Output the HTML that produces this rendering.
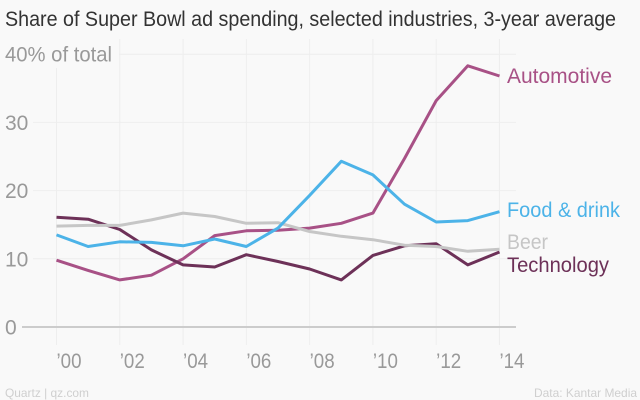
<!DOCTYPE html>
<html>
<head>
<meta charset="utf-8">
<style>
html,body{margin:0;padding:0;background:#f9f9f9;}
body{width:640px;height:400px;overflow:hidden;}
svg{display:block;font-family:"Liberation Sans",sans-serif;}
</style>
</head>
<body>
<svg id="chart" width="640" height="400" viewBox="0 0 640 400" xmlns="http://www.w3.org/2000/svg">
<rect width="640" height="400" fill="#f9f9f9"/>
<text x="5" y="26" font-size="21" fill="#333333" textLength="611" lengthAdjust="spacingAndGlyphs">Share of Super Bowl ad spending, selected industries, 3-year average</text>
<g id="grid"></g>
<g id="series"></g>
<g id="labels"></g>
<text x="5" y="397" font-size="12" fill="#cfcfcf" textLength="84" lengthAdjust="spacingAndGlyphs">Quartz | qz.com</text>
<text x="637" y="397" font-size="12" fill="#cfcfcf" text-anchor="end" textLength="103" lengthAdjust="spacingAndGlyphs">Data: Kantar Media</text>
</svg>
<script>
const years = [2000,2001,2002,2003,2004,2005,2006,2007,2008,2009,2010,2011,2012,2013,2014];
const automotive = [9.8,8.3,6.9,7.6,10.0,13.4,14.1,14.2,14.5,15.2,16.7,24.7,33.2,38.3,36.8];
const foodDrink = [13.5,11.8,12.5,12.4,11.9,12.9,11.8,14.5,19.3,24.3,22.3,18.0,15.4,15.6,16.9];
const beer = [14.8,14.9,14.9,15.7,16.7,16.2,15.2,15.3,14.0,13.3,12.8,12.0,11.8,11.1,11.4];
const technology = [16.1,15.8,14.3,11.3,9.1,8.8,10.6,9.6,8.5,6.9,10.5,11.9,12.2,9.1,11.0];
const yTicks = [0,10,20,30,40];
const xTicks = [2000,2002,2004,2006,2008,2010,2012,2014];

const NS = 'http://www.w3.org/2000/svg';
function xPos(year){ return 56.5 + (year - 2000) * 31.64; }
function yPos(v){ return 327 - v * 6.82; }
function make(tag, parent, attrs){
  const el = document.createElementNS(NS, tag);
  for (const k in attrs) el.setAttribute(k, attrs[k]);
  parent.appendChild(el);
  return el;
}

const grid = document.getElementById('grid');
const seriesG = document.getElementById('series');
const labelsG = document.getElementById('labels');

yTicks.forEach(function(t){
  if (t === 0) return;
  const line = make('line', grid, {x1: t === 40 ? 119 : 33, x2: 516, y1: yPos(t), y2: yPos(t), stroke: '#eeeeee', 'stroke-width': 1});
  
  
});
xTicks.forEach(function(t){
  const line = make('line', grid, {x1: xPos(t), x2: xPos(t), y1: t === 2000 ? 68 : 39, y2: 345, stroke: '#eeeeee', 'stroke-width': 1});
  
  
});
const baseline = make('line', grid, {x1: 22, x2: 516, y1: yPos(0), y2: yPos(0), stroke: '#cccccc', 'stroke-width': 2});



yTicks.forEach(function(t){
  const label = make('text', labelsG, {x: 5, y: yPos(t) + 7.5, 'font-size': 21, fill: '#999999'});
  label.textContent = t === 40 ? '40% of total' : String(t);
  if (t === 40) {
    label.setAttribute('textLength', '107');
    label.setAttribute('lengthAdjust', 'spacingAndGlyphs');
  }
  
  
});
xTicks.forEach(function(t){
  const label = make('text', labelsG, {x: xPos(t), y: 368, 'font-size': 21, fill: '#999999', textLength: 25, lengthAdjust: 'spacingAndGlyphs'});
  label.textContent = '\u2019' + String(t).slice(2);
  
  
});

function drawSeries(values, color, name){
  const pts = values.map(function(v, i){ return xPos(years[i]).toFixed(1) + ',' + yPos(v).toFixed(1); }).join(' ');
  const line = make('polyline', seriesG, {points: pts, fill: 'none', stroke: color, 'stroke-width': 3, 'stroke-linejoin': 'round'});
  
  
}
drawSeries(automotive, '#a85186', 'automotive-line');
drawSeries(technology, '#6d3158', 'technology-line');
drawSeries(beer, '#c6c6c6', 'beer-line');
drawSeries(foodDrink, '#4cb3e8', 'food-drink-line');

function drawEndLabel(text, y, color, width, name){
  const label = make('text', labelsG, {x: 507, y: y, 'font-size': 21, fill: color, textLength: width, lengthAdjust: 'spacingAndGlyphs'});
  label.textContent = text;
  
  
}
drawEndLabel('Automotive', 83, '#a85186', 105, 'automotive-label');
drawEndLabel('Food & drink', 217, '#4cb3e8', 113, 'food-drink-label');
drawEndLabel('Beer', 249, '#c6c6c6', 41, 'beer-label');
drawEndLabel('Technology', 272, '#6d3158', 102, 'technology-label');
</script>
</body>
</html>
